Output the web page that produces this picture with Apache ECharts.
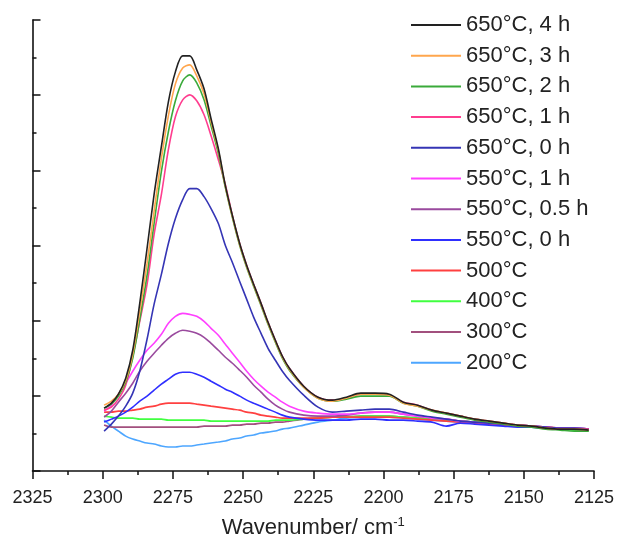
<!DOCTYPE html>
<html>
<head>
<meta charset="utf-8">
<script src="https://cdn.jsdelivr.net/npm/echarts@6/dist/echarts.min.js"></script>
<style>html,body{margin:0;padding:0;background:#fff;overflow:hidden}#c{width:617px;height:546px}</style>
</head>
<body>
<div id="c"></div>
<script>
// Wavenumbers (cm-1)
const wavenumbers = [2299.5,2296.9,2294.4,2291.8,2289.3,2286.8,2284.2,2281.7,2279.1,2276.6,2274.1,2271.5,2269.0,2266.5,2263.9,2261.4,2258.8,2256.3,2253.8,2251.2,2248.7,2246.2,2243.6,2241.1,2238.5,2236.0,2233.5,2228.4,2223.3,2218.2,2213.2,2208.1,2203.0,2197.9,2192.9,2187.8,2182.7,2177.6,2172.6,2167.5,2162.4,2157.3,2152.3,2147.2,2142.1,2137.0,2132.0,2126.9];

const seriesNames = ["650°C, 4 h","650°C, 3 h","650°C, 2 h","650°C, 1 h","650°C, 0 h","550°C, 1 h","550°C, 0.5 h","550°C, 0 h","500°C","400°C","300°C","200°C"];
const seriesColors = ["#222222","#ffa64d","#3aaa3a","#ff3d8f","#3535b5","#ff40ff","#9a4a9e","#2f2fff","#ff4040","#40ff40","#a2507e","#4da6ff"];

// Absorbance (arbitrary units)
const a650_4h = [63,68,77,93,121,168,223,277,325,370,400,416,416,402,383,353,323,286,256,228,206,187,168,149,131,115,103,85,74,71,74,78,78,77,69,66,61,58,55,52,50,48,46,45,43,42,42,41];
const a650_3h = [66,70,77,91,117,160,208,260,313,356,388,404,407,396,378,350,321,285,255,227,205,186,167,148,130,114,102,84,73,70,73,77,77,76,68,65,61,58,55,52,50,48,46,45,43,42,42,41];
const a650_2h = [63,67,75,89,113,152,196,248,300,340,371,391,397,389,372,346,318,284,254,226,204,185,166,147,129,113,101,84,73,70,72,75,75,75,68,65,60,57,54,51,49,47,45,44,42,41,40,40];
const a650_1h = [61,64,72,86,115,150,187,237,277,322,355,372,377,371,357,336,312,287,256,228,206,187,168,149,131,115,103,85,74,71,73,77,77,76,69,66,61,58,55,52,50,48,46,45,43,42,42,42];
const a650_0h = [40,47,55,65,78,100,132,167,197,228,253,272,283,283,275,263,248,226,209,190,172,154,138,123,111,100,91,76,64,59,60,61,62,62,59,56,54,52,50,49,48,47,46,45,44,43,43,42];
const a550_1h = [60,66,77,88,100,111,121,128,137,148,155,158,157,155,150,143,136,127,118,109,100,92,85,79,74,69,65,60,58,57,57,58,59,59,57,55,53,52,50,49,48,47,46,45,44,43,43,42];
const a550_05h = [54,60,69,78,88,100,110,118,126,133,138,141,140,138,134,128,121,114,108,101,94,86,79,72,66,62,59,56,55,55,56,58,59,59,57,55,53,52,50,49,48,47,46,45,44,43,43,42];
const a550_0h = [49,52,55,59,64,70,75,81,87,92,97,99,99,97,94,90,86,82,79,75,71,68,65,62,59,56,54,52,51,51,51,52,52,51,51,50,49,45,48,47,46,45,44,44,43,42,42,41];
const a500 = [59,59,60,60,61,62,64,65,67,68,68,68,68,67,66,65,64,63,62,61,59,58,56,55,54,53,53,53,53,54,54,54,54,54,53,52,51,50,49,48,47,46,45,44,44,43,42,42];
const a400 = [55,54,53,53,53,52,52,52,52,51,51,51,51,51,51,50,50,50,50,50,50,50,50,50,51,51,51,52,53,54,54,55,55,55,54,53,52,51,50,49,47,46,45,44,43,42,41,40];
const a300 = [46,44,44,44,44,44,44,44,44,44,44,44,44,44,45,45,45,45,46,46,47,47,48,48,49,49,50,52,53,54,54,55,55,55,54,53,52,51,50,49,48,47,46,45,44,43,42,42];
const a200 = [51,45,40,35,32,30,28,27,25,24,24,25,25,26,27,28,29,30,32,33,35,36,38,39,40,42,43,46,49,51,53,54,54,54,53,52,51,50,49,48,47,46,45,44,43,42,42,41];

const seriesValues = [a650_4h,a650_3h,a650_2h,a650_1h,a650_0h,a550_1h,a550_05h,a550_0h,a500,a400,a300,a200];

const FONT = 'Arial, "Liberation Sans", sans-serif';
const chart = echarts.init(document.getElementById('c'), null, {renderer: 'canvas'});

const series = seriesNames.map((name, i) => ({
  name: name,
  type: 'line',
  data: wavenumbers.map((w, j) => [w, seriesValues[i][j]]),
  showSymbol: false,
  symbol: 'none',
  smooth: 0.3,
  lineStyle: {width: 1.6, color: seriesColors[i]},
  itemStyle: {color: seriesColors[i]},
  z: 20 - i
}));

chart.setOption({
  animation: false,
  backgroundColor: '#ffffff',
  grid: {left: 32.5, right: 23, top: 20, bottom: 75, containLabel: false, outerBoundsMode: 'none'},
  legend: {
    orient: 'vertical',
    left: 406,
    top: 9,
    padding: 5,
    itemWidth: 50,
    itemHeight: 20,
    itemGap: 8.7,
    icon: 'path://M0,9 L50,9 L50,11 L0,11 Z',
    textStyle: {fontFamily: FONT, fontSize: 22, lineHeight: 20, color: '#222'},
    data: seriesNames
  },
  xAxis: {
    type: 'value',
    min: 2125,
    max: 2325,
    interval: 25,
    inverse: true,
    name: '{a|Wavenumber/ cm}{s|-1}',
    nameLocation: 'middle',
    nameGap: 45,
    nameTextStyle: {
      rich: {
        a: {fontFamily: FONT, fontSize: 22, color: '#222', lineHeight: 24},
        s: {fontFamily: FONT, fontSize: 13, color: '#222', verticalAlign: 'top', lineHeight: 24, padding: [0, 0, 10, 0]}
      }
    },
    axisLine: {show: true, onZero: false, lineStyle: {color: '#111', width: 1.6}},
    axisTick: {show: true, inside: false, length: 8, lineStyle: {color: '#111', width: 1.5}},
    minorTick: {show: true, splitNumber: 2, length: 4, lineStyle: {color: '#111', width: 1.5}},
    axisLabel: {fontFamily: FONT, fontSize: 18, color: '#222', margin: 18, formatter: v => String(v)},
    splitLine: {show: false}
  },
  yAxis: {
    type: 'value',
    min: 0,
    max: 452,
    interval: 75.33333333333333,
    axisLine: {show: true, lineStyle: {color: '#111', width: 1.6}},
    axisTick: {show: true, inside: true, length: 8, lineStyle: {color: '#111', width: 1.5}},
    minorTick: {show: true, splitNumber: 2, length: 4, lineStyle: {color: '#111', width: 1.5}},
    axisLabel: {show: false},
    splitLine: {show: false}
  },
  series: series
});
</script>
</body>
</html>
